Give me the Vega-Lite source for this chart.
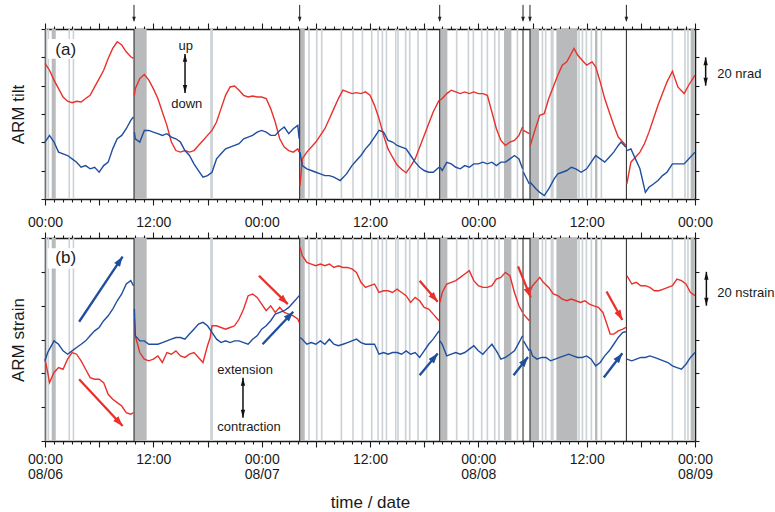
{
"$schema":"https://vega.github.io/schema/vega-lite/v6.json",
"padding":{"left":9,"top":4,"right":2,"bottom":2},
"spacing":2,
"config":{"font":"Liberation Sans","view":{"stroke":null},
 "axis":{"domainColor":"#1a1a1a","domainWidth":1.5,"tickColor":"#1a1a1a","tickWidth":1.1,"labelColor":"#1a1a1a","titleColor":"#1a1a1a","labelFont":"Liberation Sans","titleFont":"Liberation Sans","titleFontWeight":"normal","grid":false,"labelFontSize":14,"titleFontSize":17},
 "text":{"font":"Liberation Sans","color":"#1a1a1a"}},
"datasets":{
"bands":[
{"t0":0.74,"t1":1.19,"k":"heavy"},{"t0":9.86,"t1":11.26,"k":"heavy"},{"t0":28.21,"t1":28.77,"k":"heavy"},{"t0":43.72,"t1":44.57,"k":"heavy"},{"t0":50.84,"t1":51.66,"k":"heavy"},{"t0":53.72,"t1":54.72,"k":"heavy"},{"t0":56.65,"t1":58.97,"k":"heavy"},{"t0":60.92,"t1":61.19,"k":"heavy"},{"t0":71.52,"t1":71.89,"k":"heavy"},
{"t0":0.06,"t1":0.24,"k":"light"},{"t0":0.28,"t1":0.46,"k":"light"},{"t0":2.6,"t1":2.77,"k":"light"},{"t0":3.06,"t1":3.24,"k":"light"},{"t0":18.3,"t1":18.6,"k":"light"},{"t0":29.15,"t1":29.33,"k":"light"},{"t0":30.01,"t1":30.19,"k":"light"},{"t0":30.56,"t1":30.74,"k":"light"},{"t0":32.74,"t1":32.92,"k":"light"},{"t0":34.03,"t1":34.21,"k":"light"},{"t0":35.07,"t1":35.25,"k":"light"},{"t0":36.1,"t1":36.28,"k":"light"},{"t0":36.8,"t1":36.98,"k":"light"},{"t0":37.28,"t1":37.46,"k":"light"},{"t0":37.73,"t1":37.91,"k":"light"},{"t0":38.76,"t1":38.94,"k":"light"},{"t0":39.01,"t1":39.19,"k":"light"},{"t0":39.86,"t1":40.04,"k":"light"},{"t0":40.31,"t1":40.49,"k":"light"},{"t0":41.23,"t1":41.41,"k":"light"},{"t0":42.19,"t1":42.37,"k":"light"},{"t0":45.51,"t1":45.69,"k":"light"},{"t0":46.81,"t1":46.99,"k":"light"},{"t0":47.36,"t1":47.54,"k":"light"},{"t0":48.28,"t1":48.46,"k":"light"},{"t0":48.91,"t1":49.09,"k":"light"},{"t0":49.72,"t1":49.9,"k":"light"},{"t0":50.2,"t1":50.38,"k":"light"},{"t0":52.24,"t1":52.42,"k":"light"},{"t0":55.01,"t1":55.19,"k":"light"},{"t0":55.37,"t1":55.55,"k":"light"},{"t0":56.0,"t1":56.35,"k":"light"},{"t0":59.06,"t1":59.24,"k":"light"},{"t0":59.44,"t1":59.62,"k":"light"},{"t0":59.88,"t1":60.06,"k":"light"},{"t0":60.43,"t1":60.61,"k":"light"},{"t0":61.54,"t1":61.72,"k":"light"},{"t0":69.41,"t1":69.59,"k":"light"},{"t0":70.8,"t1":70.98,"k":"light"},{"t0":71.13,"t1":71.31,"k":"light"}
],
"events":[{"h":9.86},{"h":28.21},{"h":43.72},{"h":52.95},{"h":53.72},{"h":64.4}],
"tilt":[
{"c":"r","g":1,"h":0,"v":95.7},{"c":"r","g":1,"h":0.5,"v":90.9},{"c":"r","g":1,"h":1,"v":83.9},{"c":"r","g":1,"h":1.5,"v":77.9},{"c":"r","g":1,"h":2,"v":72},{"c":"r","g":1,"h":2.5,"v":69},{"c":"r","g":1,"h":3,"v":68},{"c":"r","g":1,"h":3.5,"v":69},{"c":"r","g":1,"h":4,"v":68.5},{"c":"r","g":1,"h":4.5,"v":70.9},{"c":"r","g":1,"h":5,"v":73.2},{"c":"r","g":1,"h":5.5,"v":79.1},{"c":"r","g":1,"h":6,"v":85},{"c":"r","g":1,"h":6.5,"v":90.9},{"c":"r","g":1,"h":7,"v":99.2},{"c":"r","g":1,"h":7.5,"v":106.3},{"c":"r","g":1,"h":8,"v":111},{"c":"r","g":1,"h":8.5,"v":108.7},{"c":"r","g":1,"h":9,"v":103.9},{"c":"r","g":1,"h":9.5,"v":100.4},{"c":"r","g":1,"h":9.8,"v":99.2},
{"c":"r","g":2,"h":9.9,"v":73.2},{"c":"r","g":2,"h":10,"v":77.9},{"c":"r","g":2,"h":10.5,"v":85},{"c":"r","g":2,"h":11,"v":87.9},{"c":"r","g":2,"h":11.5,"v":83.9},{"c":"r","g":2,"h":12,"v":77.9},{"c":"r","g":2,"h":12.5,"v":70.9},{"c":"r","g":2,"h":13,"v":61.4},{"c":"r","g":2,"h":13.5,"v":52},{"c":"r","g":2,"h":14,"v":40.2},{"c":"r","g":2,"h":14.5,"v":34.2},{"c":"r","g":2,"h":15,"v":33.1},{"c":"r","g":2,"h":15.5,"v":34.2},{"c":"r","g":2,"h":16,"v":33.1},{"c":"r","g":2,"h":16.5,"v":34.2},{"c":"r","g":2,"h":17,"v":37.8},{"c":"r","g":2,"h":17.5,"v":41.3},{"c":"r","g":2,"h":18,"v":44.9},{"c":"r","g":2,"h":18.5,"v":48.4},{"c":"r","g":2,"h":19,"v":54.3},{"c":"r","g":2,"h":19.5,"v":63.8},{"c":"r","g":2,"h":20,"v":73.2},{"c":"r","g":2,"h":20.5,"v":79.1},{"c":"r","g":2,"h":21,"v":79.8},{"c":"r","g":2,"h":21.5,"v":76.8},{"c":"r","g":2,"h":22,"v":73.2},{"c":"r","g":2,"h":22.5,"v":72},{"c":"r","g":2,"h":23,"v":72.7},{"c":"r","g":2,"h":23.5,"v":72},{"c":"r","g":2,"h":24,"v":72},{"c":"r","g":2,"h":24.5,"v":70.9},{"c":"r","g":2,"h":25,"v":63.8},{"c":"r","g":2,"h":25.5,"v":54.3},{"c":"r","g":2,"h":26,"v":42.5},{"c":"r","g":2,"h":26.5,"v":36.6},{"c":"r","g":2,"h":27,"v":34.2},{"c":"r","g":2,"h":27.5,"v":33.1},{"c":"r","g":2,"h":28,"v":35.4},{"c":"r","g":2,"h":28.15,"v":33.1},
{"c":"r","g":3,"h":28.25,"v":9.4},{"c":"r","g":3,"h":28.5,"v":28.3},{"c":"r","g":3,"h":29,"v":33.1},{"c":"r","g":3,"h":30,"v":40.2},{"c":"r","g":3,"h":30.5,"v":44.9},{"c":"r","g":3,"h":31,"v":49.6},{"c":"r","g":3,"h":31.5,"v":56.7},{"c":"r","g":3,"h":32,"v":63.8},{"c":"r","g":3,"h":32.5,"v":70.9},{"c":"r","g":3,"h":33,"v":76.8},{"c":"r","g":3,"h":33.5,"v":75.6},{"c":"r","g":3,"h":34,"v":74.4},{"c":"r","g":3,"h":34.5,"v":75.1},{"c":"r","g":3,"h":35,"v":74.4},{"c":"r","g":3,"h":35.5,"v":75.6},{"c":"r","g":3,"h":36,"v":73.2},{"c":"r","g":3,"h":36.5,"v":66.1},{"c":"r","g":3,"h":37,"v":56.7},{"c":"r","g":3,"h":37.5,"v":44.9},{"c":"r","g":3,"h":38,"v":35.4},{"c":"r","g":3,"h":38.5,"v":29.5},{"c":"r","g":3,"h":39,"v":24},{"c":"r","g":3,"h":39.5,"v":21},{"c":"r","g":3,"h":40,"v":18.5},{"c":"r","g":3,"h":40.5,"v":23},{"c":"r","g":3,"h":41,"v":28.3},{"c":"r","g":3,"h":41.5,"v":36.6},{"c":"r","g":3,"h":42,"v":44.9},{"c":"r","g":3,"h":42.5,"v":53.1},{"c":"r","g":3,"h":43,"v":61.4},{"c":"r","g":3,"h":43.65,"v":69.7},
{"c":"r","g":4,"h":43.75,"v":69.7},{"c":"r","g":4,"h":44,"v":70.9},{"c":"r","g":4,"h":44.5,"v":74.4},{"c":"r","g":4,"h":45,"v":76.8},{"c":"r","g":4,"h":45.5,"v":75.6},{"c":"r","g":4,"h":46,"v":74.4},{"c":"r","g":4,"h":46.5,"v":75.6},{"c":"r","g":4,"h":47,"v":74.4},{"c":"r","g":4,"h":47.5,"v":75.6},{"c":"r","g":4,"h":48,"v":74.4},{"c":"r","g":4,"h":48.5,"v":74.4},{"c":"r","g":4,"h":49,"v":73.2},{"c":"r","g":4,"h":49.5,"v":61.4},{"c":"r","g":4,"h":50,"v":49.6},{"c":"r","g":4,"h":50.5,"v":41.3},{"c":"r","g":4,"h":51,"v":37.8},{"c":"r","g":4,"h":51.5,"v":40.2},{"c":"r","g":4,"h":52,"v":41.3},{"c":"r","g":4,"h":52.5,"v":44.9},{"c":"r","g":4,"h":52.9,"v":50.8},
{"c":"r","g":5,"h":53,"v":48.4},{"c":"r","g":5,"h":53.65,"v":46.1},
{"c":"r","g":6,"h":53.75,"v":37.8},{"c":"r","g":6,"h":54.2,"v":47.2},{"c":"r","g":6,"h":54.8,"v":59.1},{"c":"r","g":6,"h":55.3,"v":60.2},{"c":"r","g":6,"h":55.8,"v":70.9},{"c":"r","g":6,"h":56.3,"v":79.1},{"c":"r","g":6,"h":56.8,"v":87.4},{"c":"r","g":6,"h":57.3,"v":94.5},{"c":"r","g":6,"h":57.8,"v":96.8},{"c":"r","g":6,"h":58.3,"v":102.7},{"c":"r","g":6,"h":58.6,"v":106.3},{"c":"r","g":6,"h":59,"v":101.6},{"c":"r","g":6,"h":59.5,"v":98},{"c":"r","g":6,"h":60,"v":94.5},{"c":"r","g":6,"h":60.6,"v":96.8},{"c":"r","g":6,"h":61,"v":93.3},{"c":"r","g":6,"h":61.5,"v":82.7},{"c":"r","g":6,"h":62,"v":70.9},{"c":"r","g":6,"h":62.5,"v":61.4},{"c":"r","g":6,"h":63,"v":52},{"c":"r","g":6,"h":63.5,"v":43.7},{"c":"r","g":6,"h":64,"v":40.2},{"c":"r","g":6,"h":64.35,"v":37.8},
{"c":"r","g":7,"h":64.45,"v":10.6},{"c":"r","g":7,"h":64.9,"v":26},{"c":"r","g":7,"h":65.4,"v":29.5},{"c":"r","g":7,"h":65.9,"v":33.1},{"c":"r","g":7,"h":66.4,"v":39},{"c":"r","g":7,"h":66.9,"v":47.2},{"c":"r","g":7,"h":67.4,"v":56.7},{"c":"r","g":7,"h":67.9,"v":66.1},{"c":"r","g":7,"h":68.4,"v":74.4},{"c":"r","g":7,"h":68.9,"v":82.7},{"c":"r","g":7,"h":69.5,"v":90.2},{"c":"r","g":7,"h":70.1,"v":79.1},{"c":"r","g":7,"h":70.8,"v":74.4},{"c":"r","g":7,"h":71.3,"v":80.3},{"c":"r","g":7,"h":72,"v":87.4},
{"c":"b","g":1,"h":0,"v":40.2},{"c":"b","g":1,"h":0.5,"v":44.9},{"c":"b","g":1,"h":1,"v":40.2},{"c":"b","g":1,"h":1.5,"v":33.1},{"c":"b","g":1,"h":2,"v":31.9},{"c":"b","g":1,"h":2.5,"v":30.7},{"c":"b","g":1,"h":3,"v":28.3},{"c":"b","g":1,"h":3.5,"v":26},{"c":"b","g":1,"h":4,"v":22.4},{"c":"b","g":1,"h":4.5,"v":23.6},{"c":"b","g":1,"h":5,"v":21.3},{"c":"b","g":1,"h":5.5,"v":22.4},{"c":"b","g":1,"h":6,"v":18.9},{"c":"b","g":1,"h":6.5,"v":23.6},{"c":"b","g":1,"h":7,"v":26},{"c":"b","g":1,"h":7.5,"v":35.4},{"c":"b","g":1,"h":8,"v":42.5},{"c":"b","g":1,"h":8.5,"v":44.9},{"c":"b","g":1,"h":9,"v":49.6},{"c":"b","g":1,"h":9.5,"v":55.5},{"c":"b","g":1,"h":9.8,"v":57.9},
{"c":"b","g":2,"h":9.9,"v":47.2},{"c":"b","g":2,"h":10,"v":42.5},{"c":"b","g":2,"h":10.5,"v":40.2},{"c":"b","g":2,"h":11,"v":48.4},{"c":"b","g":2,"h":11.5,"v":48.4},{"c":"b","g":2,"h":12,"v":47.2},{"c":"b","g":2,"h":12.5,"v":46.1},{"c":"b","g":2,"h":13,"v":44.9},{"c":"b","g":2,"h":13.5,"v":46.1},{"c":"b","g":2,"h":14,"v":43.7},{"c":"b","g":2,"h":14.5,"v":42.5},{"c":"b","g":2,"h":15,"v":40.2},{"c":"b","g":2,"h":15.5,"v":34.2},{"c":"b","g":2,"h":16,"v":30.7},{"c":"b","g":2,"h":16.5,"v":24.8},{"c":"b","g":2,"h":17,"v":20.1},{"c":"b","g":2,"h":17.5,"v":15.4},{"c":"b","g":2,"h":18,"v":16.5},{"c":"b","g":2,"h":18.5,"v":18.9},{"c":"b","g":2,"h":19,"v":28.3},{"c":"b","g":2,"h":19.5,"v":31.9},{"c":"b","g":2,"h":20,"v":35.4},{"c":"b","g":2,"h":20.5,"v":36.6},{"c":"b","g":2,"h":21,"v":37.8},{"c":"b","g":2,"h":21.5,"v":39},{"c":"b","g":2,"h":22,"v":42.5},{"c":"b","g":2,"h":22.5,"v":43.7},{"c":"b","g":2,"h":23,"v":44.9},{"c":"b","g":2,"h":23.5,"v":47.2},{"c":"b","g":2,"h":24,"v":48.4},{"c":"b","g":2,"h":24.5,"v":47.2},{"c":"b","g":2,"h":25,"v":44.9},{"c":"b","g":2,"h":25.5,"v":44.9},{"c":"b","g":2,"h":26,"v":48.4},{"c":"b","g":2,"h":26.5,"v":50.8},{"c":"b","g":2,"h":27,"v":46.1},{"c":"b","g":2,"h":27.5,"v":49.6},{"c":"b","g":2,"h":28,"v":52},{"c":"b","g":2,"h":28.15,"v":42.5},
{"c":"b","g":3,"h":28.25,"v":33.1},{"c":"b","g":3,"h":28.5,"v":23.6},{"c":"b","g":3,"h":29,"v":21.3},{"c":"b","g":3,"h":29.5,"v":20.1},{"c":"b","g":3,"h":30,"v":18.9},{"c":"b","g":3,"h":30.5,"v":17.7},{"c":"b","g":3,"h":31,"v":16.5},{"c":"b","g":3,"h":31.5,"v":16.5},{"c":"b","g":3,"h":32,"v":15.4},{"c":"b","g":3,"h":32.7,"v":13},{"c":"b","g":3,"h":33.4,"v":17.7},{"c":"b","g":3,"h":34,"v":23.6},{"c":"b","g":3,"h":34.5,"v":27.2},{"c":"b","g":3,"h":35,"v":30.7},{"c":"b","g":3,"h":35.5,"v":35.4},{"c":"b","g":3,"h":36,"v":39},{"c":"b","g":3,"h":36.5,"v":43.7},{"c":"b","g":3,"h":37,"v":48.4},{"c":"b","g":3,"h":37.5,"v":47.2},{"c":"b","g":3,"h":38,"v":41.3},{"c":"b","g":3,"h":38.5,"v":40.2},{"c":"b","g":3,"h":39,"v":37.8},{"c":"b","g":3,"h":39.5,"v":36.6},{"c":"b","g":3,"h":40,"v":35.4},{"c":"b","g":3,"h":40.5,"v":30.7},{"c":"b","g":3,"h":41,"v":26},{"c":"b","g":3,"h":41.5,"v":22.4},{"c":"b","g":3,"h":42,"v":20.1},{"c":"b","g":3,"h":42.5,"v":18.9},{"c":"b","g":3,"h":43,"v":18.9},{"c":"b","g":3,"h":43.65,"v":22.4},
{"c":"b","g":4,"h":43.75,"v":22.4},{"c":"b","g":4,"h":44,"v":20.1},{"c":"b","g":4,"h":44.5,"v":25.9},{"c":"b","g":4,"h":45,"v":24.8},{"c":"b","g":4,"h":45.5,"v":22.4},{"c":"b","g":4,"h":46,"v":21.3},{"c":"b","g":4,"h":46.5,"v":23.6},{"c":"b","g":4,"h":47,"v":22.4},{"c":"b","g":4,"h":47.5,"v":24.8},{"c":"b","g":4,"h":48,"v":24.8},{"c":"b","g":4,"h":48.5,"v":26},{"c":"b","g":4,"h":49,"v":24.8},{"c":"b","g":4,"h":49.5,"v":26},{"c":"b","g":4,"h":50,"v":23.6},{"c":"b","g":4,"h":50.5,"v":26},{"c":"b","g":4,"h":51,"v":26},{"c":"b","g":4,"h":51.5,"v":28.3},{"c":"b","g":4,"h":52,"v":30.7},{"c":"b","g":4,"h":52.5,"v":28.3},{"c":"b","g":4,"h":52.9,"v":21.3},
{"c":"b","g":5,"h":53,"v":18.9},{"c":"b","g":5,"h":53.65,"v":10.6},
{"c":"b","g":6,"h":53.75,"v":11.8},{"c":"b","g":6,"h":54.4,"v":7.1},{"c":"b","g":6,"h":54.8,"v":4.7},{"c":"b","g":6,"h":55.3,"v":2.4},{"c":"b","g":6,"h":55.8,"v":7.1},{"c":"b","g":6,"h":56.4,"v":14.2},{"c":"b","g":6,"h":56.8,"v":17.7},{"c":"b","g":6,"h":57.3,"v":18.9},{"c":"b","g":6,"h":57.8,"v":20.1},{"c":"b","g":6,"h":58.3,"v":22.4},{"c":"b","g":6,"h":58.8,"v":21.3},{"c":"b","g":6,"h":59.4,"v":18.9},{"c":"b","g":6,"h":60,"v":21.3},{"c":"b","g":6,"h":60.5,"v":26},{"c":"b","g":6,"h":61,"v":30.7},{"c":"b","g":6,"h":61.5,"v":28.3},{"c":"b","g":6,"h":62,"v":26},{"c":"b","g":6,"h":62.5,"v":29.5},{"c":"b","g":6,"h":63,"v":33.1},{"c":"b","g":6,"h":63.5,"v":37.8},{"c":"b","g":6,"h":63.8,"v":40.2},{"c":"b","g":6,"h":64.35,"v":36.6},
{"c":"b","g":7,"h":64.45,"v":34.2},{"c":"b","g":7,"h":64.9,"v":35.4},{"c":"b","g":7,"h":65.4,"v":28.3},{"c":"b","g":7,"h":65.9,"v":21.3},{"c":"b","g":7,"h":66.5,"v":4.7},{"c":"b","g":7,"h":66.9,"v":8.3},{"c":"b","g":7,"h":67.4,"v":10.6},{"c":"b","g":7,"h":67.9,"v":13},{"c":"b","g":7,"h":68.4,"v":16.5},{"c":"b","g":7,"h":68.9,"v":18.9},{"c":"b","g":7,"h":69.5,"v":24.8},{"c":"b","g":7,"h":70.1,"v":24.8},{"c":"b","g":7,"h":70.8,"v":24.8},{"c":"b","g":7,"h":71.3,"v":28.3},{"c":"b","g":7,"h":72,"v":33.1}
],
"strain":[
{"c":"r","g":1,"h":0,"v":48.4},{"c":"r","g":1,"h":0.3,"v":40.5},{"c":"r","g":1,"h":0.5,"v":34.5},{"c":"r","g":1,"h":1,"v":40.5},{"c":"r","g":1,"h":1.5,"v":43.4},{"c":"r","g":1,"h":2,"v":42.4},{"c":"r","g":1,"h":2.5,"v":48.4},{"c":"r","g":1,"h":3,"v":52.3},{"c":"r","g":1,"h":3.5,"v":51.3},{"c":"r","g":1,"h":4,"v":47.4},{"c":"r","g":1,"h":4.5,"v":42.4},{"c":"r","g":1,"h":5,"v":37.5},{"c":"r","g":1,"h":5.5,"v":36.5},{"c":"r","g":1,"h":6,"v":36.5},{"c":"r","g":1,"h":6.5,"v":34.5},{"c":"r","g":1,"h":7,"v":27.6},{"c":"r","g":1,"h":7.5,"v":24.7},{"c":"r","g":1,"h":8,"v":22.7},{"c":"r","g":1,"h":8.5,"v":20.7},{"c":"r","g":1,"h":9,"v":16.8},{"c":"r","g":1,"h":9.5,"v":15.8},{"c":"r","g":1,"h":9.8,"v":16.8},
{"c":"r","g":2,"h":9.9,"v":72.1},{"c":"r","g":2,"h":10,"v":62.2},{"c":"r","g":2,"h":10.5,"v":52.3},{"c":"r","g":2,"h":11,"v":48.4},{"c":"r","g":2,"h":11.5,"v":47.4},{"c":"r","g":2,"h":12,"v":48.4},{"c":"r","g":2,"h":12.5,"v":50.3},{"c":"r","g":2,"h":13,"v":46.4},{"c":"r","g":2,"h":13.5,"v":52.3},{"c":"r","g":2,"h":14,"v":51.3},{"c":"r","g":2,"h":14.5,"v":53.3},{"c":"r","g":2,"h":15,"v":50.3},{"c":"r","g":2,"h":15.5,"v":49.4},{"c":"r","g":2,"h":16,"v":51.3},{"c":"r","g":2,"h":16.5,"v":52.3},{"c":"r","g":2,"h":17,"v":49.4},{"c":"r","g":2,"h":17.5,"v":46.4},{"c":"r","g":2,"h":18,"v":56.3},{"c":"r","g":2,"h":18.3,"v":61.2},{"c":"r","g":2,"h":18.5,"v":68.1},{"c":"r","g":2,"h":19,"v":68.1},{"c":"r","g":2,"h":19.5,"v":67.1},{"c":"r","g":2,"h":20,"v":66.1},{"c":"r","g":2,"h":20.5,"v":67.1},{"c":"r","g":2,"h":21,"v":68.1},{"c":"r","g":2,"h":21.5,"v":72.1},{"c":"r","g":2,"h":22,"v":78},{"c":"r","g":2,"h":22.5,"v":85.9},{"c":"r","g":2,"h":23,"v":86.9},{"c":"r","g":2,"h":23.5,"v":84.9},{"c":"r","g":2,"h":24,"v":80.9},{"c":"r","g":2,"h":24.5,"v":77},{"c":"r","g":2,"h":25,"v":79.9},{"c":"r","g":2,"h":25.5,"v":76},{"c":"r","g":2,"h":26,"v":79},{"c":"r","g":2,"h":26.5,"v":76},{"c":"r","g":2,"h":27,"v":75},{"c":"r","g":2,"h":27.5,"v":74},{"c":"r","g":2,"h":28,"v":72.1},{"c":"r","g":2,"h":28.15,"v":70.1},
{"c":"r","g":3,"h":28.25,"v":114.5},{"c":"r","g":3,"h":28.5,"v":109.6},{"c":"r","g":3,"h":29,"v":105.6},{"c":"r","g":3,"h":29.5,"v":104.6},{"c":"r","g":3,"h":30,"v":103.6},{"c":"r","g":3,"h":30.5,"v":104.6},{"c":"r","g":3,"h":31,"v":103.6},{"c":"r","g":3,"h":31.5,"v":104.6},{"c":"r","g":3,"h":32,"v":102.6},{"c":"r","g":3,"h":32.5,"v":103.6},{"c":"r","g":3,"h":33,"v":102.6},{"c":"r","g":3,"h":33.5,"v":102.6},{"c":"r","g":3,"h":34,"v":101.7},{"c":"r","g":3,"h":34.5,"v":99.7},{"c":"r","g":3,"h":35,"v":93.8},{"c":"r","g":3,"h":35.5,"v":90.8},{"c":"r","g":3,"h":36,"v":91.8},{"c":"r","g":3,"h":36.5,"v":92.8},{"c":"r","g":3,"h":37,"v":87.8},{"c":"r","g":3,"h":37.5,"v":88.8},{"c":"r","g":3,"h":38,"v":88.8},{"c":"r","g":3,"h":38.5,"v":87.8},{"c":"r","g":3,"h":39,"v":89.8},{"c":"r","g":3,"h":39.5,"v":87.8},{"c":"r","g":3,"h":40,"v":85.9},{"c":"r","g":3,"h":40.5,"v":81.9},{"c":"r","g":3,"h":41,"v":84.9},{"c":"r","g":3,"h":41.5,"v":82.9},{"c":"r","g":3,"h":42,"v":79},{"c":"r","g":3,"h":42.5,"v":78},{"c":"r","g":3,"h":43,"v":75},{"c":"r","g":3,"h":43.65,"v":71.1},
{"c":"r","g":4,"h":43.75,"v":81.9},{"c":"r","g":4,"h":44,"v":87.8},{"c":"r","g":4,"h":44.5,"v":92.8},{"c":"r","g":4,"h":45,"v":93.8},{"c":"r","g":4,"h":45.5,"v":94.8},{"c":"r","g":4,"h":46,"v":96.7},{"c":"r","g":4,"h":46.5,"v":98.7},{"c":"r","g":4,"h":47,"v":100.7},{"c":"r","g":4,"h":47.5,"v":94.8},{"c":"r","g":4,"h":48,"v":91.8},{"c":"r","g":4,"h":48.5,"v":90.8},{"c":"r","g":4,"h":49,"v":90.8},{"c":"r","g":4,"h":49.5,"v":91.8},{"c":"r","g":4,"h":50,"v":95.7},{"c":"r","g":4,"h":50.5,"v":96.7},{"c":"r","g":4,"h":51,"v":99.7},{"c":"r","g":4,"h":51.5,"v":97.7},{"c":"r","g":4,"h":52,"v":87.8},{"c":"r","g":4,"h":52.5,"v":79.9},{"c":"r","g":4,"h":52.9,"v":76},
{"c":"r","g":5,"h":53,"v":75},{"c":"r","g":5,"h":53.65,"v":71.1},
{"c":"r","g":6,"h":53.75,"v":88.8},{"c":"r","g":6,"h":54,"v":91.8},{"c":"r","g":6,"h":54.5,"v":94.8},{"c":"r","g":6,"h":54.8,"v":96.7},{"c":"r","g":6,"h":55.2,"v":93.8},{"c":"r","g":6,"h":55.8,"v":90.8},{"c":"r","g":6,"h":56.3,"v":86.9},{"c":"r","g":6,"h":56.8,"v":85.9},{"c":"r","g":6,"h":57.3,"v":83.9},{"c":"r","g":6,"h":57.8,"v":82.9},{"c":"r","g":6,"h":58.3,"v":83.9},{"c":"r","g":6,"h":58.8,"v":82.9},{"c":"r","g":6,"h":59.3,"v":81.9},{"c":"r","g":6,"h":59.8,"v":82.9},{"c":"r","g":6,"h":60.3,"v":80.9},{"c":"r","g":6,"h":60.8,"v":79.9},{"c":"r","g":6,"h":61.3,"v":79},{"c":"r","g":6,"h":61.8,"v":76},{"c":"r","g":6,"h":62.3,"v":68.1},{"c":"r","g":6,"h":62.6,"v":63.2},{"c":"r","g":6,"h":63,"v":63.2},{"c":"r","g":6,"h":63.5,"v":65.1},{"c":"r","g":6,"h":64,"v":66.1},{"c":"r","g":6,"h":64.35,"v":67.1},
{"c":"r","g":7,"h":64.45,"v":97.7},{"c":"r","g":7,"h":65,"v":92.8},{"c":"r","g":7,"h":65.5,"v":93.8},{"c":"r","g":7,"h":66,"v":91.8},{"c":"r","g":7,"h":66.5,"v":91.8},{"c":"r","g":7,"h":67,"v":90.8},{"c":"r","g":7,"h":67.5,"v":88.8},{"c":"r","g":7,"h":68,"v":88.8},{"c":"r","g":7,"h":68.5,"v":89.8},{"c":"r","g":7,"h":69,"v":90.8},{"c":"r","g":7,"h":69.5,"v":91.8},{"c":"r","g":7,"h":70,"v":95.7},{"c":"r","g":7,"h":70.5,"v":94.8},{"c":"r","g":7,"h":71,"v":92.8},{"c":"r","g":7,"h":71.5,"v":87.8},{"c":"r","g":7,"h":72,"v":85.9},
{"c":"b","g":1,"h":0,"v":47.4},{"c":"b","g":1,"h":0.3,"v":52.3},{"c":"b","g":1,"h":0.5,"v":54.3},{"c":"b","g":1,"h":1,"v":59.2},{"c":"b","g":1,"h":1.5,"v":57.2},{"c":"b","g":1,"h":2,"v":53.3},{"c":"b","g":1,"h":2.5,"v":51.3},{"c":"b","g":1,"h":3,"v":53.3},{"c":"b","g":1,"h":3.5,"v":55.3},{"c":"b","g":1,"h":4,"v":57.2},{"c":"b","g":1,"h":4.5,"v":59.2},{"c":"b","g":1,"h":5,"v":62.2},{"c":"b","g":1,"h":5.5,"v":65.1},{"c":"b","g":1,"h":6,"v":67.1},{"c":"b","g":1,"h":6.5,"v":71.1},{"c":"b","g":1,"h":7,"v":74},{"c":"b","g":1,"h":7.5,"v":78},{"c":"b","g":1,"h":8,"v":82.9},{"c":"b","g":1,"h":8.5,"v":86.9},{"c":"b","g":1,"h":9,"v":92.8},{"c":"b","g":1,"h":9.5,"v":94.8},{"c":"b","g":1,"h":9.8,"v":91.8},
{"c":"b","g":2,"h":9.9,"v":78},{"c":"b","g":2,"h":10,"v":62.2},{"c":"b","g":2,"h":10.5,"v":59.2},{"c":"b","g":2,"h":11,"v":59.2},{"c":"b","g":2,"h":11.5,"v":57.2},{"c":"b","g":2,"h":12,"v":57.2},{"c":"b","g":2,"h":12.5,"v":57.2},{"c":"b","g":2,"h":13,"v":58.2},{"c":"b","g":2,"h":13.5,"v":59.2},{"c":"b","g":2,"h":14,"v":60.2},{"c":"b","g":2,"h":14.5,"v":61.2},{"c":"b","g":2,"h":15,"v":61.2},{"c":"b","g":2,"h":15.5,"v":60.2},{"c":"b","g":2,"h":16,"v":63.2},{"c":"b","g":2,"h":16.5,"v":66.1},{"c":"b","g":2,"h":17,"v":69.1},{"c":"b","g":2,"h":17.5,"v":70.1},{"c":"b","g":2,"h":18,"v":68.1},{"c":"b","g":2,"h":18.5,"v":64.2},{"c":"b","g":2,"h":19,"v":60.2},{"c":"b","g":2,"h":19.5,"v":58.2},{"c":"b","g":2,"h":20,"v":59.2},{"c":"b","g":2,"h":20.5,"v":58.2},{"c":"b","g":2,"h":21,"v":59.2},{"c":"b","g":2,"h":21.5,"v":59.2},{"c":"b","g":2,"h":22,"v":58.2},{"c":"b","g":2,"h":22.5,"v":57.2},{"c":"b","g":2,"h":23,"v":60.2},{"c":"b","g":2,"h":23.5,"v":62.2},{"c":"b","g":2,"h":24,"v":66.1},{"c":"b","g":2,"h":24.5,"v":68.1},{"c":"b","g":2,"h":25,"v":71.1},{"c":"b","g":2,"h":25.5,"v":75},{"c":"b","g":2,"h":26,"v":76},{"c":"b","g":2,"h":26.5,"v":77},{"c":"b","g":2,"h":27,"v":79},{"c":"b","g":2,"h":27.5,"v":81.9},{"c":"b","g":2,"h":28,"v":84.9},{"c":"b","g":2,"h":28.15,"v":85.9},
{"c":"b","g":3,"h":28.25,"v":61.2},{"c":"b","g":3,"h":28.5,"v":60.2},{"c":"b","g":3,"h":29,"v":57.2},{"c":"b","g":3,"h":29.5,"v":58.2},{"c":"b","g":3,"h":30,"v":57.2},{"c":"b","g":3,"h":30.5,"v":59.2},{"c":"b","g":3,"h":31,"v":57.2},{"c":"b","g":3,"h":31.5,"v":60.2},{"c":"b","g":3,"h":32,"v":57.2},{"c":"b","g":3,"h":32.5,"v":56.3},{"c":"b","g":3,"h":33,"v":57.2},{"c":"b","g":3,"h":33.5,"v":58.2},{"c":"b","g":3,"h":34,"v":59.2},{"c":"b","g":3,"h":34.5,"v":60.2},{"c":"b","g":3,"h":35,"v":58.2},{"c":"b","g":3,"h":35.5,"v":57.2},{"c":"b","g":3,"h":36,"v":57.2},{"c":"b","g":3,"h":36.5,"v":57.2},{"c":"b","g":3,"h":37,"v":51.3},{"c":"b","g":3,"h":37.5,"v":52.3},{"c":"b","g":3,"h":38,"v":51.3},{"c":"b","g":3,"h":38.5,"v":52.3},{"c":"b","g":3,"h":39,"v":52.3},{"c":"b","g":3,"h":39.5,"v":51.3},{"c":"b","g":3,"h":40,"v":53.3},{"c":"b","g":3,"h":40.5,"v":51.3},{"c":"b","g":3,"h":41,"v":52.3},{"c":"b","g":3,"h":41.5,"v":49.4},{"c":"b","g":3,"h":42,"v":53.3},{"c":"b","g":3,"h":42.5,"v":57.2},{"c":"b","g":3,"h":43,"v":60.2},{"c":"b","g":3,"h":43.65,"v":65.1},
{"c":"b","g":4,"h":43.75,"v":59.2},{"c":"b","g":4,"h":44,"v":57.2},{"c":"b","g":4,"h":44.5,"v":50.3},{"c":"b","g":4,"h":45,"v":51.3},{"c":"b","g":4,"h":45.5,"v":52.3},{"c":"b","g":4,"h":46,"v":51.3},{"c":"b","g":4,"h":46.5,"v":52.3},{"c":"b","g":4,"h":47,"v":54.3},{"c":"b","g":4,"h":47.5,"v":56.3},{"c":"b","g":4,"h":48,"v":53.3},{"c":"b","g":4,"h":48.5,"v":51.3},{"c":"b","g":4,"h":49,"v":54.3},{"c":"b","g":4,"h":49.5,"v":57.2},{"c":"b","g":4,"h":50,"v":53.3},{"c":"b","g":4,"h":50.5,"v":48.4},{"c":"b","g":4,"h":51,"v":49.4},{"c":"b","g":4,"h":51.5,"v":51.3},{"c":"b","g":4,"h":52,"v":53.3},{"c":"b","g":4,"h":52.5,"v":58.2},{"c":"b","g":4,"h":52.9,"v":62.2},
{"c":"b","g":5,"h":53,"v":59.2},{"c":"b","g":5,"h":53.65,"v":53.3},
{"c":"b","g":6,"h":53.75,"v":54.3},{"c":"b","g":6,"h":54,"v":50.3},{"c":"b","g":6,"h":54.5,"v":48.4},{"c":"b","g":6,"h":55,"v":49.4},{"c":"b","g":6,"h":55.5,"v":49.4},{"c":"b","g":6,"h":56,"v":47.4},{"c":"b","g":6,"h":56.5,"v":48.4},{"c":"b","g":6,"h":57,"v":49.4},{"c":"b","g":6,"h":57.5,"v":50.3},{"c":"b","g":6,"h":58,"v":51.3},{"c":"b","g":6,"h":58.5,"v":50.3},{"c":"b","g":6,"h":59,"v":49.4},{"c":"b","g":6,"h":59.5,"v":49.4},{"c":"b","g":6,"h":60,"v":50.3},{"c":"b","g":6,"h":60.5,"v":48.4},{"c":"b","g":6,"h":61,"v":44.4},{"c":"b","g":6,"h":61.5,"v":46.4},{"c":"b","g":6,"h":62,"v":50.3},{"c":"b","g":6,"h":62.5,"v":53.3},{"c":"b","g":6,"h":63,"v":57.2},{"c":"b","g":6,"h":63.5,"v":61.2},{"c":"b","g":6,"h":64,"v":64.2},{"c":"b","g":6,"h":64.35,"v":64.6},
{"c":"b","g":7,"h":64.45,"v":48.4},{"c":"b","g":7,"h":65,"v":47.4},{"c":"b","g":7,"h":65.5,"v":48.4},{"c":"b","g":7,"h":66,"v":49.4},{"c":"b","g":7,"h":66.5,"v":49.4},{"c":"b","g":7,"h":67,"v":50.3},{"c":"b","g":7,"h":67.5,"v":49.4},{"c":"b","g":7,"h":68,"v":48.4},{"c":"b","g":7,"h":68.5,"v":47.4},{"c":"b","g":7,"h":69,"v":46.4},{"c":"b","g":7,"h":69.5,"v":44.4},{"c":"b","g":7,"h":70,"v":43.4},{"c":"b","g":7,"h":70.5,"v":42.4},{"c":"b","g":7,"h":71,"v":45.4},{"c":"b","g":7,"h":71.5,"v":49.4},{"c":"b","g":7,"h":72,"v":52.3}
],
"arrows":[
{"c":"b","h1":3.78,"v1":70.5,"h2":8.6,"v2":109},
{"c":"r","h1":3.78,"v1":36.5,"h2":8.6,"v2":8.9},
{"c":"r","h1":23.7,"v1":97.7,"h2":26.9,"v2":80.9},
{"c":"b","h1":24.1,"v1":57.2,"h2":27.5,"v2":76.4},
{"c":"r","h1":41.5,"v1":94.8,"h2":43.5,"v2":82.3},
{"c":"b","h1":41.5,"v1":38.9,"h2":43.5,"v2":51.7},
{"c":"r","h1":52.4,"v1":103.2,"h2":53.8,"v2":84.9},
{"c":"b","h1":51.9,"v1":38.9,"h2":53.5,"v2":49.7},
{"c":"r","h1":62.2,"v1":88.4,"h2":63.95,"v2":71.5},
{"c":"b","h1":61.9,"v1":37.5,"h2":63.95,"v2":51.9}
]
},
"vconcat":[
{
"width":650,"height":170,
"resolve":{"axis":{"x":"independent","y":"independent"},"scale":{"color":"independent"}},
"layer":[
{"data":{"name":"bands"},"mark":{"type":"rect"},
 "encoding":{
  "x":{"field":"t0","type":"quantitative","scale":{"domain":[0,72],"nice":false,"zero":false},
   "axis":{"orient":"bottom","values":[0,1,2,3,4,5,6,7,8,9,10,11,12,13,14,15,16,17,18,19,20,21,22,23,24,25,26,27,28,29,30,31,32,33,34,35,36,37,38,39,40,41,42,43,44,45,46,47,48,49,50,51,52,53,54,55,56,57,58,59,60,61,62,63,64,65,66,67,68,69,70,71,72],
    "labelExpr":"datum.value % 24 === 0 ? '00:00' : (datum.value % 12 === 0 ? '12:00' : '')",
    "tickSize":{"condition":{"test":"datum.value % 6 === 0","value":6},"value":3},
    "labelOverlap":false,"labelFlush":false,"labelPadding":10,"title":null}},
  "x2":{"field":"t1"},
  "color":{"field":"k","type":"nominal","scale":{"domain":["heavy","light"],"range":["#b8babc","#ccd2d6"]},"legend":null}}},
{"data":{"values":[{"t0":0.3,"t1":3.5,"v0":99,"v1":113}]},"mark":{"type":"rect","color":"white"},
 "encoding":{"x":{"field":"t0","type":"quantitative","axis":null},"x2":{"field":"t1"},
  "y":{"field":"v0","type":"quantitative","axis":null,"scale":{"domain":[0,120],"nice":false,"zero":false}},"y2":{"field":"v1"}}},
{"data":{"name":"events"},"mark":{"type":"rule","color":"#222","strokeWidth":1},
 "encoding":{"x":{"field":"h","type":"quantitative","axis":null}}},
{"data":{"name":"tilt"},"mark":{"type":"line","strokeWidth":1.4},
 "encoding":{
  "x":{"field":"h","type":"quantitative","axis":{"orient":"top","values":[0,1,2,3,4,5,6,7,8,9,10,11,12,13,14,15,16,17,18,19,20,21,22,23,24,25,26,27,28,29,30,31,32,33,34,35,36,37,38,39,40,41,42,43,44,45,46,47,48,49,50,51,52,53,54,55,56,57,58,59,60,61,62,63,64,65,66,67,68,69,70,71,72],"labels":false,"title":null,
    "tickSize":{"condition":{"test":"datum.value % 6 === 0","value":6},"value":3}}},
  "y":{"field":"v","type":"quantitative","scale":{"domain":[0,120],"nice":false,"zero":false},
   "axis":{"orient":"left","values":[0,20,40,60,80,100,120],"labels":false,"tickSize":4,"title":"ARM tilt","titlePadding":13}},
  "color":{"field":"c","type":"nominal","scale":{"domain":["b","r"],"range":["#1f4e9e","#e8312b"]},"legend":null},
  "detail":{"field":"g","type":"nominal"}}},
{"data":{"name":"events"},"mark":{"type":"rule","color":"#222","strokeWidth":1},
 "encoding":{"x":{"field":"h","type":"quantitative","axis":null},
  "y":{"datum":137,"type":"quantitative","axis":null},"y2":{"datum":126}}},
{"data":{"name":"events"},"mark":{"type":"point","shape":"M0,0L0.6,1.8L-0.6,1.8Z","angle":180,"filled":true,"color":"#222","size":36,"opacity":1,"strokeWidth":0},
 "encoding":{"x":{"field":"h","type":"quantitative","axis":null},
  "y":{"datum":124.9,"type":"quantitative","axis":null}}},
{"data":{"values":[{"h":15.51,"v1":74.8,"v2":102.4},{"h":73.18,"v1":80,"v2":100}]},
 "mark":{"type":"rule","color":"#111","strokeWidth":1.5},
 "encoding":{"x":{"field":"h","type":"quantitative","axis":null},
  "y":{"field":"v1","type":"quantitative","axis":{"orient":"right","values":[0,20,40,60,80,100,120],"labels":false,"tickSize":4,"title":null}},
  "y2":{"field":"v2"}}},
{"data":{"values":[{"h":15.51,"v":102.4},{"h":73.18,"v":100}]},
 "mark":{"type":"point","shape":"M0,0L0.6,2.2L-0.6,2.2Z","filled":true,"color":"#111","size":52,"opacity":1,"strokeWidth":0},
 "encoding":{"x":{"field":"h","type":"quantitative","axis":null},"y":{"field":"v","type":"quantitative","axis":null}}},
{"data":{"values":[{"h":15.51,"v":74.8},{"h":73.18,"v":80}]},
 "mark":{"type":"point","shape":"M0,0L0.6,2.2L-0.6,2.2Z","angle":180,"filled":true,"color":"#111","size":52,"opacity":1,"strokeWidth":0},
 "encoding":{"x":{"field":"h","type":"quantitative","axis":null},"y":{"field":"v","type":"quantitative","axis":null}}},
{"data":{"values":[{"h":15.58,"v":108.2,"t":"up"},{"h":15.7,"v":67.1,"t":"down"}]},
 "mark":{"type":"text","fontSize":13,"align":"center","baseline":"middle"},
 "encoding":{"x":{"field":"h","type":"quantitative","axis":null},"y":{"field":"v","type":"quantitative","axis":null},"text":{"field":"t"}}},
{"data":{"values":[{"h":74.47,"v":88,"t":"20 nrad"}]},
 "mark":{"type":"text","fontSize":13,"align":"left","baseline":"middle"},
 "encoding":{"x":{"field":"h","type":"quantitative","axis":null},"y":{"field":"v","type":"quantitative","axis":null},"text":{"field":"t"}}},
{"data":{"values":[{"h":2.29,"v":105.4,"t":"(a)"}]},
 "mark":{"type":"text","fontSize":17,"align":"center","baseline":"middle"},
 "encoding":{"x":{"field":"h","type":"quantitative","axis":null},"y":{"field":"v","type":"quantitative","axis":null},"text":{"field":"t"}}}
]
},
{
"width":650,"height":203,
"resolve":{"axis":{"x":"independent","y":"independent"},"scale":{"color":"independent"}},
"layer":[
{"data":{"name":"bands"},"mark":{"type":"rect"},
 "encoding":{
  "x":{"field":"t0","type":"quantitative","scale":{"domain":[0,72],"nice":false,"zero":false},
   "axis":{"orient":"bottom","values":[0,1,2,3,4,5,6,7,8,9,10,11,12,13,14,15,16,17,18,19,20,21,22,23,24,25,26,27,28,29,30,31,32,33,34,35,36,37,38,39,40,41,42,43,44,45,46,47,48,49,50,51,52,53,54,55,56,57,58,59,60,61,62,63,64,65,66,67,68,69,70,71,72],
    "labelExpr":"datum.value % 24 === 0 ? ['00:00', '08/0' + (6 + datum.value / 24)] : (datum.value % 12 === 0 ? '12:00' : '')",
    "tickSize":{"condition":{"test":"datum.value % 6 === 0","value":6},"value":3},
    "labelOverlap":false,"labelFlush":false,"labelPadding":5,"labelLineHeight":15,"title":"time / date","titleFontSize":17,"titlePadding":13}},
  "x2":{"field":"t1"},
  "color":{"field":"k","type":"nominal","scale":{"domain":["heavy","light"],"range":["#b8babc","#ccd2d6"]},"legend":null}}},
{"data":{"values":[{"t0":0.3,"t1":3.5,"v0":102,"v1":114}]},"mark":{"type":"rect","color":"white"},
 "encoding":{"x":{"field":"t0","type":"quantitative","axis":null},"x2":{"field":"t1"},
  "y":{"field":"v0","type":"quantitative","axis":null,"scale":{"domain":[0,120],"nice":false,"zero":false}},"y2":{"field":"v1"}}},
{"data":{"name":"events"},"mark":{"type":"rule","color":"#222","strokeWidth":1},
 "encoding":{"x":{"field":"h","type":"quantitative","axis":null}}},
{"data":{"name":"strain"},"mark":{"type":"line","strokeWidth":1.4},
 "encoding":{
  "x":{"field":"h","type":"quantitative","axis":{"orient":"top","values":[0,1,2,3,4,5,6,7,8,9,10,11,12,13,14,15,16,17,18,19,20,21,22,23,24,25,26,27,28,29,30,31,32,33,34,35,36,37,38,39,40,41,42,43,44,45,46,47,48,49,50,51,52,53,54,55,56,57,58,59,60,61,62,63,64,65,66,67,68,69,70,71,72],"labels":false,"title":null,
    "tickSize":{"condition":{"test":"datum.value % 6 === 0","value":6},"value":3}}},
  "y":{"field":"v","type":"quantitative","scale":{"domain":[0,120],"nice":false,"zero":false},
   "axis":{"orient":"left","values":[0,20,40,60,80,100,120],"labels":false,"tickSize":4,"title":"ARM strain","titlePadding":13}},
  "color":{"field":"c","type":"nominal","scale":{"domain":["b","r"],"range":["#1f4e9e","#e8312b"]},"legend":null},
  "detail":{"field":"g","type":"nominal"}}},
{"data":{"name":"arrows"},"mark":{"type":"rule","strokeWidth":2.3},
 "encoding":{"x":{"field":"h1","type":"quantitative","axis":null},"x2":{"field":"h2"},
  "y":{"field":"v1","type":"quantitative","axis":null},"y2":{"field":"v2"},
  "color":{"field":"c","type":"nominal","scale":{"domain":["b","r"],"range":["#1f4e9e","#e8312b"]},"legend":null}}},
{"data":{"name":"arrows"},
 "transform":[{"calculate":"atan2((datum.h2-datum.h1)*9.028,(datum.v2-datum.v1)*1.692)*180/PI","as":"ang"}],
 "mark":{"type":"point","shape":"M0,0L0.7,2L-0.7,2Z","filled":true,"size":100,"opacity":1,"strokeWidth":0},
 "encoding":{"x":{"field":"h2","type":"quantitative","axis":null},"y":{"field":"v2","type":"quantitative","axis":null},
  "angle":{"field":"ang","type":"quantitative","scale":null},
  "color":{"field":"c","type":"nominal","scale":{"domain":["b","r"],"range":["#1f4e9e","#e8312b"]},"legend":null}}},
{"data":{"values":[{"h":21.93,"v1":13.8,"v2":37.4},{"h":73.26,"v1":80,"v2":100}]},
 "mark":{"type":"rule","color":"#111","strokeWidth":1.5},
 "encoding":{"x":{"field":"h","type":"quantitative","axis":null},
  "y":{"field":"v1","type":"quantitative","axis":{"orient":"right","values":[0,20,40,60,80,100,120],"labels":false,"tickSize":4,"title":null}},
  "y2":{"field":"v2"}}},
{"data":{"values":[{"h":21.93,"v":37.4},{"h":73.26,"v":100}]},
 "mark":{"type":"point","shape":"M0,0L0.6,2.2L-0.6,2.2Z","filled":true,"color":"#111","size":52,"opacity":1,"strokeWidth":0},
 "encoding":{"x":{"field":"h","type":"quantitative","axis":null},"y":{"field":"v","type":"quantitative","axis":null}}},
{"data":{"values":[{"h":21.93,"v":13.8},{"h":73.26,"v":80}]},
 "mark":{"type":"point","shape":"M0,0L0.6,2.2L-0.6,2.2Z","angle":180,"filled":true,"color":"#111","size":52,"opacity":1,"strokeWidth":0},
 "encoding":{"x":{"field":"h","type":"quantitative","axis":null},"y":{"field":"v","type":"quantitative","axis":null}}},
{"data":{"values":[{"h":22.16,"v":42.0,"t":"extension"},{"h":22.6,"v":8.3,"t":"contraction"}]},
 "mark":{"type":"text","fontSize":13,"align":"center","baseline":"middle"},
 "encoding":{"x":{"field":"h","type":"quantitative","axis":null},"y":{"field":"v","type":"quantitative","axis":null},"text":{"field":"t"}}},
{"data":{"values":[{"h":74.47,"v":87.5,"t":"20 nstrain"}]},
 "mark":{"type":"text","fontSize":13,"align":"left","baseline":"middle"},
 "encoding":{"x":{"field":"h","type":"quantitative","axis":null},"y":{"field":"v","type":"quantitative","axis":null},"text":{"field":"t"}}},
{"data":{"values":[{"h":2.3,"v":108,"t":"(b)"}]},
 "mark":{"type":"text","fontSize":17,"align":"center","baseline":"middle"},
 "encoding":{"x":{"field":"h","type":"quantitative","axis":null},"y":{"field":"v","type":"quantitative","axis":null},"text":{"field":"t"}}}
]
}
]
}
